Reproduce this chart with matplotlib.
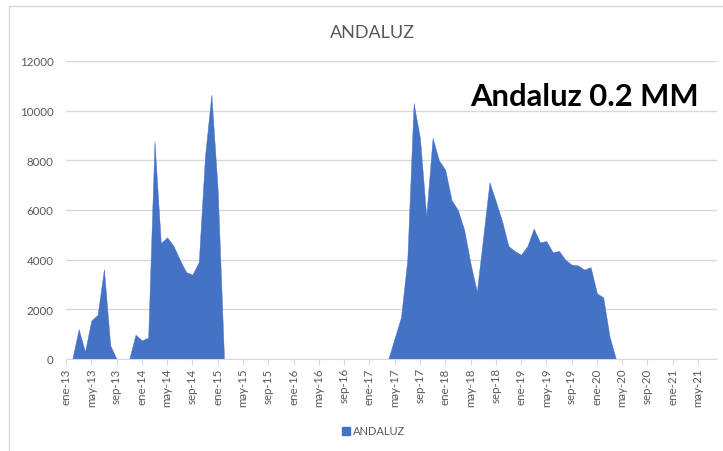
import matplotlib
matplotlib.use("Agg")
import matplotlib.pyplot as plt
from matplotlib.patches import Patch, Rectangle

plt.rcParams['font.family'] = ['Lato', 'DejaVu Sans']

# meses en castellano, serie mensual ene-13 .. ago-21
meses = ["ene", "feb", "mar", "abr", "may", "jun", "jul", "ago", "sep", "oct", "nov", "dic"]
anios = [13, 14, 15, 16, 17, 18, 19, 20, 21]

v2013 = [0, 0, 1200, 300, 1550, 1780, 3620, 550, 0, 0, 0, 980]
v2014 = [750, 860, 8770, 4670, 4900, 4560, 4000, 3500, 3400, 3900, 8200, 10650]
v2015 = [6800, 0, 0, 0, 0, 0, 0, 0, 0, 0, 0, 0]
v2016 = [0, 0, 0, 0, 0, 0, 0, 0, 0, 0, 0, 0]
v2017 = [0, 0, 0, 0, 850, 1680, 4000, 10300, 8900, 5750, 8900, 8000]
v2018 = [7620, 6400, 6000, 5200, 3850, 2720, 4900, 7120, 6350, 5550, 4550, 4350]
v2019 = [4200, 4550, 5250, 4700, 4750, 4300, 4350, 4000, 3800, 3770, 3600, 3700]
v2020 = [2650, 2480, 900, 0, 0, 0, 0, 0, 0, 0, 0, 0]
v2021 = [0, 0, 0, 0, 0, 0, 0, 0]

andaluz = v2013 + v2014 + v2015 + v2016 + v2017 + v2018 + v2019 + v2020 + v2021
fechas = ["%s-%d" % (meses[i % 12], anios[i // 12]) for i in range(len(andaluz))]
x = list(range(len(andaluz)))

azul = "#4472C4"
gris_txt = "#595959"
gris_lin = "#D9D9D9"

fig = plt.figure(figsize=(7.23, 4.52), dpi=100)
ax = fig.add_axes([66 / 723, 92 / 452, 651 / 723, 298 / 452])

ax.fill_between(x, andaluz, 0, color=azul, lw=0.3, edgecolor=azul)

ax.set_xlim(0, len(andaluz) - 1)
ax.set_ylim(0, 12000)
ax.set_yticks(range(0, 12001, 2000))
ax.grid(axis="y", color=gris_lin, lw=1)
ax.set_axisbelow(True)

ax.set_xticks(x[::4])
ax.set_xticklabels(fechas[::4], rotation=90)
ax.tick_params(axis="x", length=4, color=gris_lin, pad=2, labelsize=8.3, labelcolor=gris_txt)
ax.tick_params(axis="y", length=0, pad=9, labelsize=8.3, labelcolor=gris_txt)

for s in ["top", "right", "left"]:
    ax.spines[s].set_visible(False)
ax.spines["bottom"].set_color(gris_lin)
ax.spines["bottom"].set_zorder(3)

# titulo y anotacion
fig.text(372 / 723, 1 - 33 / 452, "ANDALUZ", ha="center", va="center", fontsize=13, color=gris_txt)
fig.text(470 / 723, 1 - 97 / 452, "Andaluz 0.2 MM", ha="left", va="center",
         fontsize=22.3, fontweight="bold", color="black")

fig.legend(handles=[Patch(color=azul, label="ANDALUZ")], loc="center",
           bbox_to_anchor=(374 / 723, 1 - 432 / 452), frameon=False, fontsize=8,
           handlelength=0.7, handleheight=0.7, handletextpad=0.3, labelcolor=gris_txt)

# marco del grafico (recortado a la derecha y abajo)
fig.patches.append(Rectangle((9 / 723, -0.1), 1.0, 1.1 - 7 / 452, transform=fig.transFigure,
                             fill=False, edgecolor=gris_lin, lw=1))

fig.savefig("out.png", dpi=100)
